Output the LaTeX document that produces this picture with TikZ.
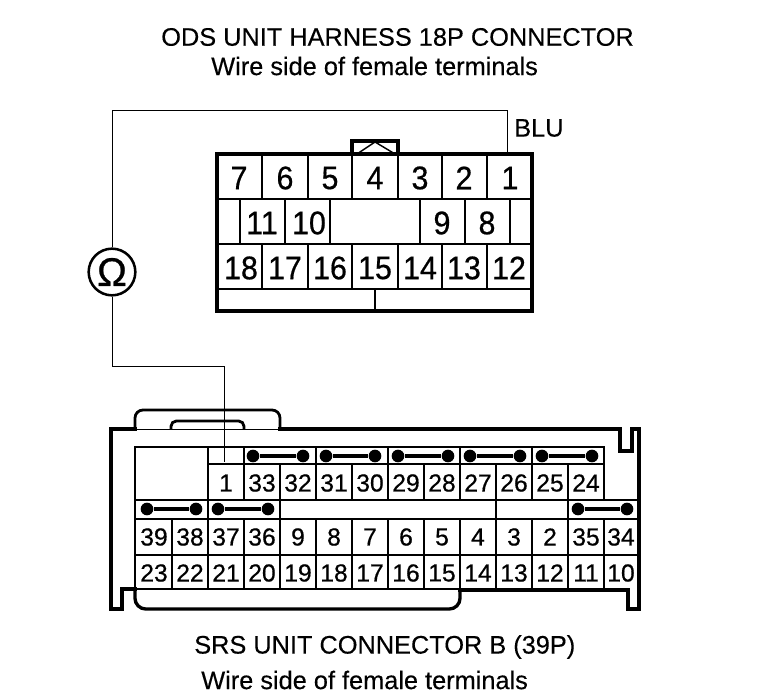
\documentclass[tikz,border=0pt]{standalone}
\usepackage{fontspec}
\setmainfont{Liberation Sans}
\newfontfamily\numfont[FakeBold=0.6]{Liberation Sans}
\newfontfamily\capfont[FakeBold=0.3]{Liberation Sans}
\tikzset{
  px/.style={x=0.75pt,y=-0.75pt},
  thick line/.style={line width=2.5pt,line cap=rect},
  mid line/.style={line width=2.1pt,line cap=rect},
  wire/.style={line width=0.7pt},
  cap text/.style={font=\capfont\fontsize{19}{21}\selectfont,anchor=west,inner sep=0pt},
  num/.style={font=\numfont\fontsize{24.5}{25}\selectfont,inner sep=0pt,xscale=0.93},
  small num/.style={font=\numfont\fontsize{18.5}{20}\selectfont,inner sep=0pt},
  pin/.style={circle,fill=black,minimum size=9.5pt,inner sep=0pt},
  bridge/.style={line width=2.6pt}
}
\newcommand{\bridgepins}[3]{%
  \node[pin] (p#1a) at (#1,#3) {};
  \node[pin] (p#1b) at (#2,#3) {};
  \draw[bridge] (p#1a) -- (p#1b);}
\begin{document}
\begin{tikzpicture}[px]
\useasboundingbox (0,0) rectangle (768,698);
% captions
\node[cap text] (t1) at (161,37) {ODS UNIT HARNESS 18P CONNECTOR};
\node[cap text] (t2) at (211,66) {Wire side of female terminals};
\node[cap text] (t3) at (194,647) {SRS UNIT CONNECTOR B (39P)};
\node[cap text] (t4) at (201,680) {Wire side of female terminals};
\node[cap text] (blu) at (514,128) {BLU};
% upper connector
\draw[thick line] (217,154) rectangle (532,311);
\draw[thick line] (352,154) -- (352,141) -- (398,141) -- (398,154);
\draw[line width=1.1pt] (357,154) -- (375,142) -- (395,154);
\foreach \y in {199,244,289} \draw[mid line] (217,\y) -- (532,\y);
\foreach \x in {262,308,352,398,442,487} {
  \draw[mid line] (\x,154) -- (\x,199);
  \draw[mid line] (\x,244) -- (\x,289);
}
\foreach \x in {240,285,330,420,465,510} \draw[mid line] (\x,199) -- (\x,244);
\draw[line width=1.1pt] (375,289) -- (375,311);
\foreach \n/\x in {7/239,6/285,5/330,4/375,3/420,2/464,1/510}
  \node[num] (a\n) at (\x,178) {\n};
\foreach \n/\x in {11/262,10/309,9/442,8/487}
  \node[num] (a\n) at (\x,223) {\n};
\foreach \n/\x in {18/241,17/285,16/330,15/375,14/420,13/464,12/509}
  \node[num] (a\n) at (\x,268) {\n};
% lower connector housing
\draw[thick line] (135,429) -- (111,429) -- (111,609) -- (122,609) -- (122,589) -- (135,589);
\draw[thick line] (280,429) -- (620,429) -- (620,451) -- (632,451) -- (632,429) -- (639,429) -- (639,609) -- (628,609) -- (628,590) -- (460,590);
\draw[wire] (135,429) -- (280,429);
\draw[mid line,rounded corners=6pt,line cap=butt] (135,429) -- (135,410) -- (280,410) -- (280,429);
\draw[mid line,rounded corners=4pt,line cap=butt] (171,429) -- (171,421) -- (244,421) -- (244,429);
\draw[thick line,rounded corners=8pt,line cap=butt] (135,589) -- (135,609) -- (460,609) -- (460,589);
% lower grid
\draw[mid line] (135,447) -- (604,447) -- (604,500);
\draw[mid line] (208,464) -- (604,464);
\draw[mid line] (135,447) -- (135,589);
\draw[mid line] (135,500) -- (639,500);
\draw[mid line] (135,519) -- (639,519);
\draw[mid line] (135,555) -- (639,555);
\draw[mid line] (135,589) -- (628,589);
\foreach \x in {208,244,316,388,460,532} \draw[mid line] (\x,447) -- (\x,464);
\foreach \x in {208,244,280,316,352,388,424,460,496,532,568} \draw[mid line] (\x,464) -- (\x,500);
\foreach \x in {208,280,496,568} \draw[mid line] (\x,500) -- (\x,519);
\foreach \x in {172,208,244,280,316,352,388,424,460,496,532,568,604} \draw[mid line] (\x,519) -- (\x,589);
\bridgepins{253}{303}{456}
\bridgepins{326}{375}{456}
\bridgepins{398}{448}{456}
\bridgepins{470}{520}{456}
\bridgepins{542}{592}{456}
\bridgepins{147}{196}{509}
\bridgepins{218}{268}{509}
\bridgepins{578}{627}{509}
\foreach \n/\x in {1/226,33/262,32/298,31/334,30/370,29/406,28/442,27/478,26/514,25/550,24/586}
  \node[small num] (b\n) at (\x,483) {\n};
\foreach \n/\x in {39/154,38/190,37/226,36/262,9/298,8/334,7/370,6/406,5/442,4/478,3/514,2/550,35/586,34/621}
  \node[small num] (b\n) at (\x,537) {\n};
\foreach \n/\x in {23/154,22/190,21/226,20/262,19/298,18/334,17/370,16/406,15/442,14/478,13/514,12/550,11/586,10/621}
  \node[small num] (b\n) at (\x,573) {\n};
% ohmmeter and wire
\node[circle,draw,line width=1.9pt,minimum size=35pt,inner sep=0pt] (ohm) at (112,272) {};
\node[font=\numfont\fontsize{30}{30}\selectfont,inner sep=0pt] (ohmsign) at (ohm.center) {Ω};
\coordinate (wa) at (507,154);
\coordinate (wb) at (224,462);
\draw[wire] (ohm.north) -- (112,110) -- (507,110) -- (wa);
\draw[wire] (ohm.south) -- (112,366) -- (224,366) -- (wb);
\end{tikzpicture}
\end{document}
